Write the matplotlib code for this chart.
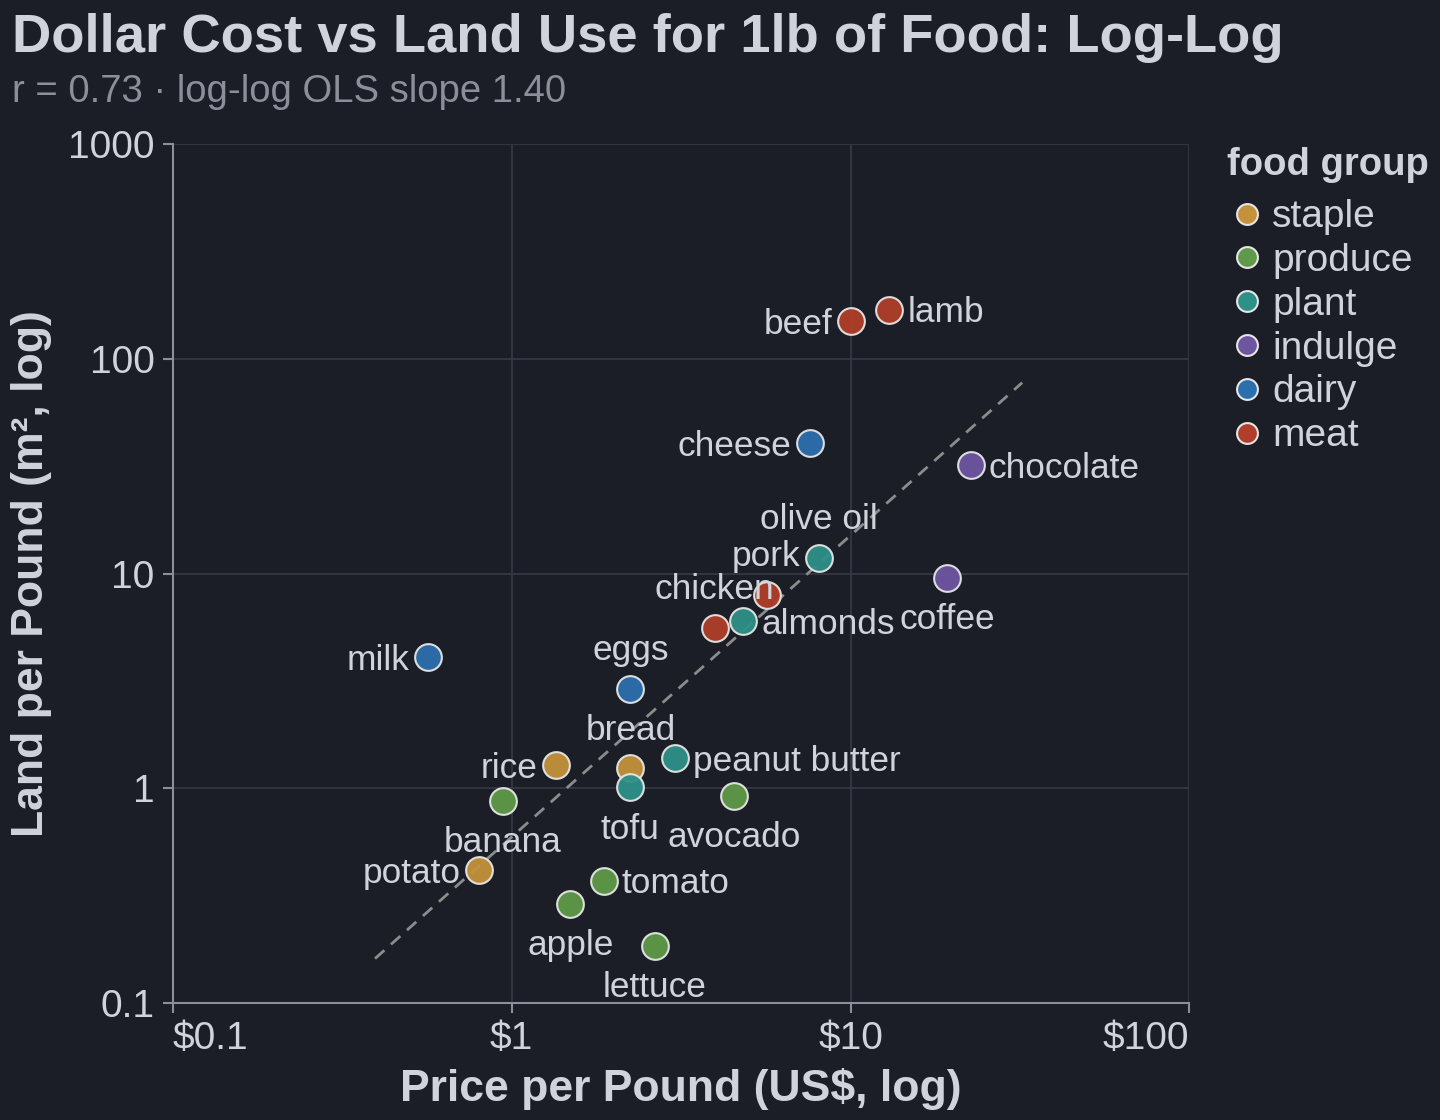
import numpy as np
import matplotlib
matplotlib.use("Agg")
import matplotlib.pyplot as plt
from matplotlib.lines import Line2D

# data
foods = ["potato", "rice", "bread",
         "banana", "avocado", "tomato", "apple", "lettuce",
         "olive oil", "almonds", "peanut butter", "tofu",
         "chocolate", "coffee",
         "cheese", "milk", "eggs",
         "beef", "lamb", "pork", "chicken"]
groups = ["staple", "staple", "staple",
          "produce", "produce", "produce", "produce", "produce",
          "plant", "plant", "plant", "plant",
          "indulge", "indulge",
          "dairy", "dairy", "dairy",
          "meat", "meat", "meat", "meat"]
price = [0.80, 1.35, 2.24,
         0.94, 4.52, 1.87, 1.49, 2.64,
         8.05, 4.83, 3.03, 2.24,
         22.6, 19.3,
         7.57, 0.565, 2.24,
         10.0, 13.0, 5.65, 3.97]
land = [0.415, 1.28, 1.24,
        0.87, 0.92, 0.37, 0.29, 0.184,
        11.9, 6.0, 1.38, 1.01,
        32.0, 9.6,
        40.5, 4.08, 2.9,
        150.0, 170.0, 8.0, 5.6]
# where each label sits relative to its point
label_pos = ["left", "left", "above",
             "below", "below", "right", "below", "below",
             "above", "right", "right", "below",
             "right", "below",
             "left", "left", "above",
             "left", "right", "above", "above"]

group_order = ["staple", "produce", "plant", "indulge", "dairy", "meat"]
group_colors = {"staple": "#C4923A", "produce": "#5E9A48", "plant": "#2E9189",
                "indulge": "#6E55A0", "dairy": "#2C6FAD", "meat": "#B03E2A"}

bg = "#1B1E26"
fg = "#D0D3DC"
muted = "#8A8F9A"
grid_c = "#363a45"

plt.rcParams['font.family'] = ['Liberation Sans', 'DejaVu Sans']

fig = plt.figure(figsize=(14.4, 11.2), dpi=100, facecolor=bg)
ax = fig.add_axes([0.120, 0.1045, 0.706, 0.7665], facecolor=bg)

ax.set_xscale('log')
ax.set_yscale('log')
ax.set_xlim(0.1, 100)
ax.set_ylim(0.1, 1000)

# log-log OLS fit line
lx = np.log10(price)
ly = np.log10(land)
slope, intercept = np.polyfit(lx, ly, 1)
xs = np.array([min(price) / 1.43, max(price) * 1.42])
ax.plot(xs, 10 ** (intercept + slope * np.log10(xs)), color="#8c8c8c",
        lw=2.0, dashes=(4.5, 3.2), zorder=2)

for g in group_order:
    idx = [i for i, gg in enumerate(groups) if gg == g]
    ax.scatter([price[i] for i in idx], [land[i] for i in idx], s=370,
               color=group_colors[g], edgecolor="#E6E6E6", linewidth=1.5,
               alpha=0.95, zorder=3)

offsets = {"left": ((-13, -2), "right", "center"),
           "right": ((13, -2), "left", "center"),
           "above": ((0, 27.5), "center", "center"),
           "below": ((0, -30), "center", "center")}
for name, x, y, p in zip(foods, price, land, label_pos):
    off, ha, va = offsets[p]
    ax.annotate(name, (x, y), xytext=off, textcoords="offset points",
                ha=ha, va=va, fontsize=25.4, color=fg, zorder=4)

ax.set_xticks([0.1, 1, 10, 100])
ax.set_xticklabels(["$0.1", "$1", "$10", "$100"])
ax.set_yticks([0.1, 1, 10, 100, 1000])
ax.set_yticklabels(["0.1", "1", "10", "100", "1000"])
ax.minorticks_off()
ax.tick_params(axis='both', labelsize=28, colors=fg, length=7, width=1.5,
               color=muted, pad=6)
xt = ax.get_xticklabels()
xt[0].set_ha('left')
xt[-1].set_ha('right')
ax.grid(True, color=grid_c, lw=1.2)
ax.set_axisbelow(True)
for s in ["top", "right"]:
    ax.spines[s].set_visible(False)
for s in ["left", "bottom"]:
    ax.spines[s].set_color(muted)
    ax.spines[s].set_linewidth(1.5)

ax.set_xlabel("Price per Pound (US$, log)", fontsize=32, fontweight='bold',
              color=fg, labelpad=8)
ax.set_ylabel("Land per Pound (m², log)", fontsize=32, fontweight='bold',
              color=fg, labelpad=12)

fig.text(0.0083, 0.988, "Dollar Cost vs Land Use for 1lb of Food: Log-Log",
         fontsize=39.2, fontweight='bold', color=fg, ha='left', va='top')
fig.text(0.0083, 0.918, "r = 0.73 · log-log OLS slope 1.40",
         fontsize=27.5, color=muted, ha='left', va='center')

handles = [Line2D([], [], marker='o', ls='', markersize=15,
                  markerfacecolor=group_colors[g], markeredgecolor="#E6E6E6",
                  markeredgewidth=1.5, label=g) for g in group_order]
leg = fig.legend(handles=handles, title="food group", loc='upper left',
                 bbox_to_anchor=(0.8415, 0.883), frameon=False, fontsize=28,
                 title_fontsize=27.5, labelcolor=fg, handletextpad=0.15,
                 labelspacing=0.2, handlelength=1.0, borderaxespad=0)
leg.get_title().set_color(fg)
leg.get_title().set_fontweight('bold')
leg._legend_box.align = "left"
leg._legend_box.sep = 12

fig.savefig("out.png", dpi=100, facecolor=bg)
